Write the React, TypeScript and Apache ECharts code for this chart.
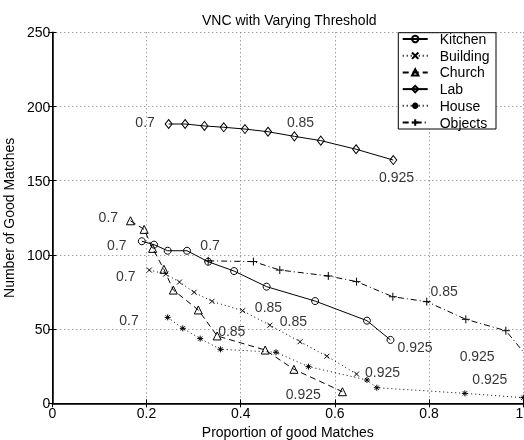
import React, { useEffect, useRef } from "react";
import * as echarts from "echarts";

const kitchenX = [0.19, 0.216, 0.245, 0.286, 0.331, 0.386, 0.455, 0.558, 0.668, 0.718];
const kitchenY = [109.2, 106.9, 102.8, 102.8, 95.4, 89.1, 78.6, 68.9, 55.7, 42.7];
const buildingX = [0.206, 0.241, 0.27, 0.301, 0.339, 0.404, 0.462, 0.526, 0.583, 0.646];
const buildingY = [89.8, 87.1, 81.7, 74.8, 68.7, 62.4, 52.6, 41.5, 31.7, 19.7];
const churchX = [0.166, 0.195, 0.213, 0.237, 0.257, 0.31, 0.35, 0.452, 0.513, 0.616];
const churchY = [123.0, 117.2, 104.4, 90.3, 76.3, 62.9, 45.4, 35.9, 22.9, 7.8];
const labX = [0.247, 0.282, 0.323, 0.364, 0.409, 0.458, 0.514, 0.57, 0.645, 0.724];
const labY = [188.2, 188.2, 186.9, 186.0, 184.8, 183.0, 179.9, 177.0, 171.2, 163.9];
const houseX = [0.245, 0.277, 0.314, 0.357, 0.475, 0.544, 0.668, 0.689, 0.876, 1.0];
const houseY = [57.9, 50.5, 43.6, 36.4, 34.4, 24.7, 15.7, 10.5, 6.7, 3.8];
const objectsX = [0.331, 0.427, 0.483, 0.586, 0.646, 0.723, 0.795, 0.878, 0.963, 1.02];
const objectsY = [96.0, 95.5, 89.8, 85.8, 82.0, 71.8, 68.5, 56.6, 48.9, 27.0];

const labelX = [0.119, 0.137, 0.335, 0.156, 0.163, 0.197, 0.527, 0.459, 0.512, 0.381, 0.832, 0.77, 0.701, 0.533, 0.902, 0.929, 0.731];
const labelY = [125.3, 106.7, 106.7, 85.8, 56.1, 189.4, 189.4, 65.1, 55.7, 48.9, 75.7, 37.7, 21.3, 6.3, 32.1, 16.4, 152.3];
const labelText = ["0.7", "0.7", "0.7", "0.7", "0.7", "0.7", "0.85", "0.85", "0.85", "0.85", "0.85", "0.925", "0.925", "0.925", "0.925", "0.925", "0.925"];

const xTicks = { min: 0, max: 1, interval: 0.2 };
const yTicks = { min: 0, max: 250, interval: 50 };

const FONT = "'Liberation Sans', Arial, Helvetica, sans-serif";

const zip = (xs: number[], ys: number[]) => xs.map((x, i) => [x, ys[i]]);

const X_PATH = "path://M0,0L10,10M10,0L0,10";
const PLUS_PATH = "path://M5,0L5,10M0,5L10,5";
const STAR_PATH = "path://M5,0L5,10M0,5L10,5M1.5,1.5L8.5,8.5M8.5,1.5L1.5,8.5";

export default function App() {
  const ref = useRef<HTMLDivElement>(null);
  useEffect(() => {
    if (!ref.current) return;
    const chart = echarts.init(ref.current, undefined, { renderer: "svg" });
    const hollow = { color: "transparent", borderColor: "#000", borderWidth: 1 };
    const stroked = { color: "#000", borderColor: "#000", borderWidth: 1 };
    const mk = (name: string, xs: number[], ys: number[], symbol: string, size: any, type: any, item: any) => ({
      name,
      type: "line",
      data: zip(xs, ys),
      symbol,
      symbolSize: size,
      showAllSymbol: true,
      lineStyle: { color: "#000", width: 1, type },
      itemStyle: item,
      z: 2,
    });
    const axisCommon = {
      axisLine: { show: true, lineStyle: { color: "#000", width: 1.5 } },
      axisTick: { show: true, inside: true, length: 4, lineStyle: { color: "#000" } },
    };
    chart.setOption({
      animation: false,
      title: {
        text: "VNC with Varying Threshold",
        left: 197,
        top: 8,
        textStyle: { fontSize: 14, fontWeight: "normal", color: "#000", fontFamily: FONT },
      },
      grid: { left: 52.3, right: 0.7, top: 32.3, bottom: 36.7, outerBoundsMode: "none", containLabel: false },
      legend: {
        orient: "vertical",
        left: 401.7,
        top: 32,
        padding: 0,
        itemWidth: 25,
        itemHeight: 8,
        itemGap: 2.7,
        data: ["Kitchen", "Building", "Church", "Lab", "House", "Objects"],
        textStyle: { fontSize: 14, color: "#000", fontFamily: FONT, padding: [0, 0, 0, 7] },
      },
      graphic: [
        {
          type: "rect",
          z: 3,
          shape: { x: 398.3, y: 32.7, width: 97.7, height: 96.3 },
          style: { fill: "#fff", stroke: "#000", lineWidth: 1 },
        },
      ],
      xAxis: [
        {
          type: "value",
          ...xTicks,
          ...axisCommon,
          name: "Proportion of good Matches",
          nameLocation: "middle",
          nameGap: 21,
          nameTextStyle: { fontSize: 14, color: "#000", fontFamily: FONT },
          axisLabel: { fontSize: 14, color: "#000", margin: 3, fontFamily: FONT, alignMaxLabel: "right" },
          splitLine: { show: true, lineStyle: { color: "#777", type: [1, 3], width: 1 } },
        },
        {
          type: "value",
          position: "top",
          ...xTicks,
          axisLine: { show: true, lineStyle: { color: "#000", width: 1 } },
          axisTick: { show: true, inside: true, length: 4, lineStyle: { color: "#000" } },
          axisLabel: { show: false },
          splitLine: { show: false },
        },
      ],
      yAxis: [
        {
          type: "value",
          ...yTicks,
          ...axisCommon,
          name: "Number of Good Matches",
          nameLocation: "middle",
          nameGap: 27,
          nameTextStyle: { fontSize: 14, color: "#000", fontFamily: FONT },
          axisLabel: { fontSize: 14, color: "#000", margin: 2, fontFamily: FONT },
          splitLine: { show: true, lineStyle: { color: "#777", type: [1, 3], width: 1 } },
        },
        {
          type: "value",
          position: "right",
          ...yTicks,
          axisLine: { show: true, lineStyle: { color: "#000", width: 1 } },
          axisTick: { show: true, inside: true, length: 4, lineStyle: { color: "#000" } },
          axisLabel: { show: false },
          splitLine: { show: false },
        },
      ],
      series: [
        mk("Kitchen", kitchenX, kitchenY, "circle", 7, "solid", hollow),
        mk("Building", buildingX, buildingY, X_PATH, 5, [1, 3], stroked),
        mk("Church", churchX, churchY, "triangle", 8, [6, 4], hollow),
        mk("Lab", labX, labY, "diamond", [7, 9], "solid", hollow),
        mk("House", houseX, houseY, STAR_PATH, 6, [1, 3], stroked),
        mk("Objects", objectsX, objectsY, PLUS_PATH, 8, [6, 3, 1, 3], stroked),
        {
          type: "scatter",
          name: "labels",
          silent: true,
          symbolSize: 0,
          data: labelX.map((x, i) => [x, labelY[i], labelText[i]]),
          label: {
            show: true,
            position: "inside",
            formatter: (p: any) => p.value[2],
            fontSize: 14,
            color: "#000",
            fontFamily: FONT,
          },
          z: 3,
        },
      ],
    });
    return () => chart.dispose();
  }, []);
  return <div ref={ref} style={{ position: "fixed", left: 0, top: 0, width: 524, height: 440 }} />;
}
